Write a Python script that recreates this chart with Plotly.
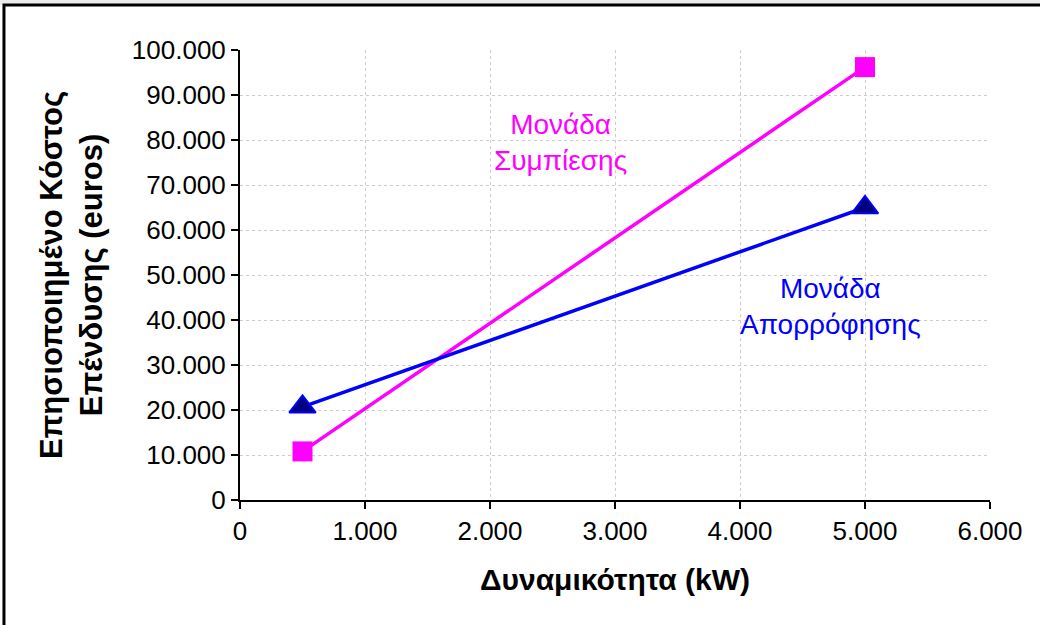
import plotly.graph_objects as go

capacity_kw = [500, 5000]
compression_cost = [10800, 96200]
absorption_cost = [20700, 65000]

x_title = "Δυναμικότητα (kW)"
y_title = "Επησιοποιημένο Κόστος<br>Επένδυσης (euros)"
label_compression = "Μονάδα<br>Συμπίεσης"
label_absorption = "Μονάδα<br>Απορρόφησης"

FONT = "Liberation Sans, Arial"

fig = go.Figure()
fig.add_trace(go.Scatter(
    x=capacity_kw, y=compression_cost, mode="lines+markers",
    line=dict(color="#FF00FF", width=3.5),
    marker=dict(symbol="square", size=20, color="#FF00FF"),
    showlegend=False, cliponaxis=False))
fig.add_trace(go.Scatter(
    x=capacity_kw, y=absorption_cost, mode="lines+markers",
    line=dict(color="#0000FF", width=3.5),
    marker=dict(symbol="triangle-up", size=23, color="#000080",
                line=dict(color="#0000FF", width=2)),
    showlegend=False, cliponaxis=False))

fig.add_annotation(x=2560, y=79500, text=label_compression, showarrow=False,
                   font=dict(family=FONT, size=28, color="#FF00FF"))
fig.add_annotation(x=4720, y=43000, text=label_absorption, showarrow=False,
                   font=dict(family=FONT, size=28, color="#0000FF"))

# light gray strip above the frame
fig.add_shape(type="rect", xref="paper", yref="paper", layer="below",
              x0=-0.34, x1=1.2, y0=1.1, y1=1.13,
              line=dict(width=0), fillcolor="#ececec")
# chart frame
fig.add_shape(type="rect", xref="paper", yref="paper",
              x0=-0.3147, x1=1.2, y0=-0.4, y1=1.1,
              line=dict(color="black", width=3), fillcolor="rgba(0,0,0,0)")

fig.update_layout(
    width=1040, height=625,
    margin=dict(l=240, r=50, t=50, b=125),
    paper_bgcolor="white", plot_bgcolor="white",
    separators=",.",
    font=dict(family=FONT, size=26, color="black"),
)
fig.update_xaxes(
    range=[0, 6000], dtick=1000, tickformat=",d",
    showline=True, linecolor="black", linewidth=2,
    ticks="outside", ticklen=7, tickwidth=2, tickcolor="black",
    showgrid=True, gridcolor="#cccccc", griddash="dot", gridwidth=1,
    zeroline=False, tickfont=dict(size=26),
    title=dict(text="<b>" + x_title + "</b>", font=dict(size=30), standoff=24),
)
fig.update_yaxes(
    range=[0, 100000], dtick=10000, tickformat=",d",
    showline=True, linecolor="black", linewidth=2,
    ticks="outside", ticklen=7, tickwidth=2, tickcolor="black",
    showgrid=True, gridcolor="#cccccc", griddash="dot", gridwidth=1,
    zeroline=False, tickfont=dict(size=26),
    title=dict(text="<b>" + y_title + "</b>", font=dict(size=31), standoff=20),
)

fig.write_html("out.html")
